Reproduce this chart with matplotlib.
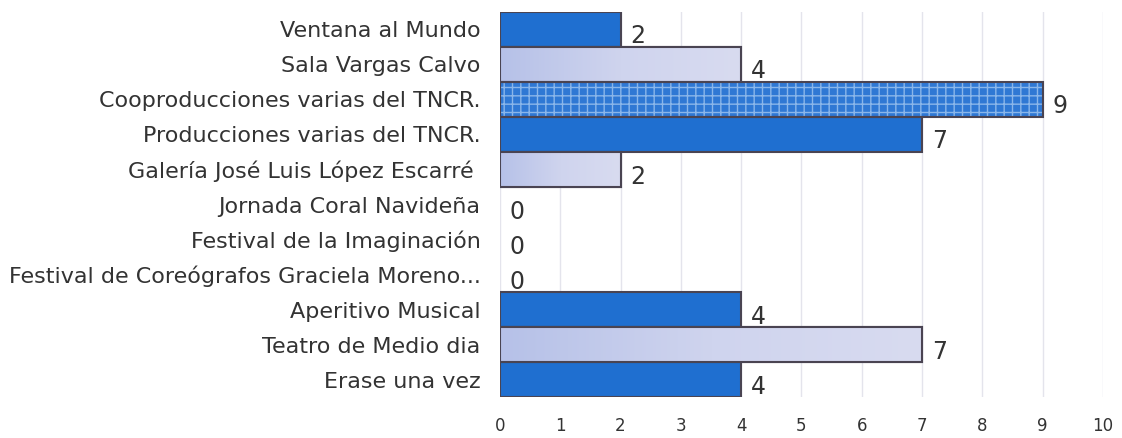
import numpy as np
import matplotlib.pyplot as plt

# data (top to bottom as in the chart)
categories = [
    "Ventana al Mundo",
    "Sala Vargas Calvo",
    "Cooproducciones varias del TNCR.",
    "Producciones varias del TNCR.",
    "Galería José Luis López Escarré ",
    "Jornada Coral Navideña",
    "Festival de la Imaginación",
    "Festival de Coreógrafos Graciela Moreno...",
    "Aperitivo Musical",
    "Teatro de Medio dia",
    "Erase una vez",
]
values = [2, 4, 9, 7, 2, 0, 0, 0, 4, 7, 4]
styles = ["dark", "light", "texture", "dark", "light", "dark", "light", "dark",
          "dark", "light", "dark"]
xticks = list(range(0, 11))

DARK = "#1f6fd0"
EDGE = "#4a4452"

fig = plt.figure(figsize=(11.22, 4.38), dpi=100)
ax = fig.add_axes([0.4456, 0.093, 0.5374, 0.880])

y = np.arange(len(categories))
light_cmap = plt.matplotlib.colors.LinearSegmentedColormap.from_list(
    "lav", ["#b6c1e8", "#cfd4ee", "#d8dbf0"])

for yi, v, s in zip(y, values, styles):
    if v == 0:
        continue
    if s == "light":
        bar = ax.barh(yi, v, height=1.0, color="#cdd2ec", edgecolor=EDGE,
                      linewidth=1.5, zorder=2)[0]
        grad = np.linspace(0, 1, 200).reshape(1, -1)
        im = ax.imshow(grad, cmap=light_cmap, aspect="auto", zorder=2.5,
                       extent=[0, v, yi + 0.5, yi - 0.5])
        im.set_clip_path(bar)
        ax.barh(yi, v, height=1.0, color="none", edgecolor=EDGE,
                linewidth=1.5, zorder=3)
    elif s == "texture":
        ax.barh(yi, v, height=1.0, color="#2f78d4", edgecolor="#8ab6ea",
                hatch="++", linewidth=0, zorder=2)
        ax.barh(yi, v, height=1.0, color="none", edgecolor=EDGE,
                linewidth=1.5, zorder=3)
    else:
        ax.barh(yi, v, height=1.0, color=DARK, edgecolor=EDGE,
                linewidth=1.5, zorder=2)

for yi, v in zip(y, values):
    ax.text(v + 0.16, yi + 0.2, str(v), fontsize=17, color="#333333",
            ha="left", va="center", zorder=4)

ax.set_ylim(len(categories) - 0.5, -0.5)
ax.set_xlim(0, 10)
ax.set_yticks(y)
ax.set_yticklabels(categories, fontsize=16, color="#333333")
ax.set_xticks(xticks)
ax.set_xticklabels([str(t) for t in xticks], fontsize=12, color="#333333")
ax.tick_params(axis="both", length=0)
ax.tick_params(axis="x", pad=14)
ax.tick_params(axis="y", pad=14)
ax.grid(axis="x", color="#e4e4ec", linewidth=1, zorder=0)
ax.set_axisbelow(True)
for sp in ax.spines.values():
    sp.set_visible(False)

fig.savefig("out.png", dpi=100)
